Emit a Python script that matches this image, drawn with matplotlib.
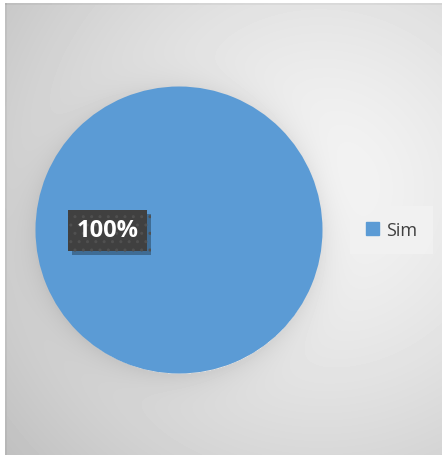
import numpy as np
import matplotlib
matplotlib.use('Agg')
import matplotlib.pyplot as plt
import matplotlib.patches as mpatches
import matplotlib.patheffects as pe

plt.rcParams['font.family'] = ['Open Sans', 'DejaVu Sans']

# 数据
categorias = ['Sim']
valores = [100]
cores = ['#5B9BD5']

W, H = 442, 456
fig = plt.figure(figsize=(W / 100, H / 100), dpi=100)
fig.patch.set_facecolor('white')

# fundo com gradiente radial (estilo Excel)
bx0, by0 = 5, 4
bw, bh = W - bx0, H - by0
bg = fig.add_axes([bx0 / W, 0, bw / W, bh / H])
yy, xx = np.mgrid[0:bh, 0:bw].astype(float)
cx, cy = 320 - bx0, 190 - by0
d = np.hypot(xx - cx, yy - cy) / 400.0
img = 0.96 - 0.20 * d ** 1.4
# sombra suave em volta da pizza
px, py, R = 179 - bx0, 233 - by0, 143.5
dp = np.hypot(xx - px, yy - py)
img -= 0.07 * np.exp(-np.clip(dp - R, 0, None) / 14.0) * (dp > R - 2)
# borda levemente mais escura
img[:, :2] -= 0.04
img[:2, :] -= 0.04
img = np.clip(img, 0, 1)
bg.imshow(img, cmap='gray', vmin=0, vmax=1, aspect='auto', interpolation='bilinear')
bg.axis('off')

# pizza
pc_x, pc_y, pr = 179, 231, 143.5
ax = fig.add_axes([(pc_x - pr) / W, (H - pc_y - pr) / H, 2 * pr / W, 2 * pr / H])
ax.set_facecolor('none')
wedges, textos, autotextos = ax.pie(valores, colors=cores, startangle=0,
                                    autopct='%1.0f%%', pctdistance=0.5,
                                    wedgeprops=dict(linewidth=0))
ax.set_xlim(-1, 1)
ax.set_ylim(-1, 1)
ax.set_aspect('equal')
ax.axis('off')

for t in autotextos:
    t.set_color('white')
    t.set_fontsize(17)
    t.set_fontweight('bold')
    t.set_bbox(dict(boxstyle='square,pad=0.36', facecolor='#404040',
                    edgecolor='#505050', hatch='..', linewidth=0))
    # sombra da caixa do rótulo
    t.get_bbox_patch().set_path_effects([
        pe.SimplePatchShadow(offset=(3, -3), shadow_rgbFace='black', alpha=0.3),
        pe.Normal()])

# legenda
handles = [mpatches.Patch(color=c, label=l) for c, l in zip(cores, categorias)]
leg = fig.legend(handles=handles, loc='center', bbox_to_anchor=(391.5 / W, 1 - 231 / H),
                 frameon=True, fancybox=False, fontsize=13,
                 handlelength=0.75, handleheight=0.75, handletextpad=0.4,
                 borderpad=0.85, labelcolor='#404040')
leg.get_frame().set_facecolor('#f2f2f2')
leg.get_frame().set_edgecolor('none')
leg.get_frame().set_alpha(0.85)

fig.savefig('out.png', dpi=100)
